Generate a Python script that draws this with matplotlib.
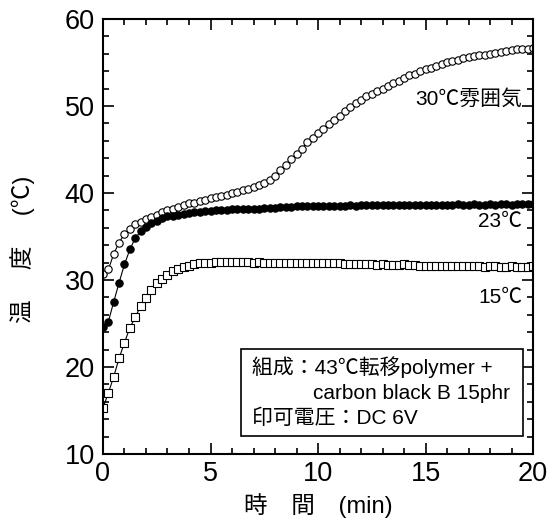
import numpy as np
import matplotlib
matplotlib.use("Agg")
import matplotlib.pyplot as plt
from matplotlib.ticker import MultipleLocator

plt.rcParams['font.family'] = ['Liberation Sans', 'Noto Sans CJK JP']

# time axis (min), sampled every 0.25 min
time_min = np.arange(0, 20.01, 0.25)

# 30C atmosphere (open circles)
temp_30 = [30.7, 31.2, 33.0, 34.3, 35.3, 35.8, 36.4, 36.7, 37.0, 37.2,
           37.5, 37.8, 38.0, 38.2, 38.4, 38.6, 38.8, 38.9, 39.1, 39.2,
           39.4, 39.5, 39.7, 39.8, 40.0, 40.1, 40.3, 40.5, 40.7, 40.9,
           41.1, 41.5, 42.0, 42.6, 43.2, 43.9, 44.5, 45.1, 45.8, 46.3,
           46.9, 47.4, 47.9, 48.4, 48.9, 49.4, 49.9, 50.3, 50.7, 51.1,
           51.4, 51.7, 52.0, 52.3, 52.6, 52.9, 53.2, 53.5, 53.7, 54.0,
           54.2, 54.4, 54.6, 54.8, 55.0, 55.2, 55.3, 55.5, 55.6, 55.7,
           55.8, 55.9, 56.0, 56.1, 56.2, 56.3, 56.4, 56.5, 56.5, 56.6,
           56.7]

# 23C (filled circles)
temp_23 = [24.6, 25.2, 27.5, 29.7, 31.8, 33.5, 34.8, 35.6, 36.1, 36.5,
           36.8, 37.1, 37.3, 37.4, 37.5, 37.6, 37.7, 37.8, 37.8, 37.9,
           37.9, 38.0, 38.0, 38.0, 38.1, 38.1, 38.1, 38.2, 38.2, 38.2,
           38.3, 38.3, 38.3, 38.4, 38.4, 38.4, 38.5, 38.5, 38.5, 38.5,
           38.5, 38.5, 38.5, 38.5, 38.5, 38.5, 38.6, 38.5, 38.6, 38.6,
           38.6, 38.6, 38.6, 38.6, 38.6, 38.6, 38.6, 38.6, 38.6, 38.6,
           38.6, 38.6, 38.6, 38.6, 38.6, 38.6, 38.7, 38.6, 38.6, 38.7,
           38.6, 38.6, 38.7, 38.6, 38.7, 38.7, 38.6, 38.7, 38.7, 38.7,
           38.7]

# 15C (open squares)
temp_15 = [15.3, 17.0, 18.9, 21.0, 22.8, 24.5, 25.7, 27.0, 27.9, 28.9,
           29.6, 30.1, 30.6, 31.0, 31.3, 31.5, 31.6, 31.8, 31.9, 32.0,
           32.0, 32.1, 32.1, 32.1, 32.1, 32.1, 32.1, 32.1, 32.0, 32.1,
           32.0, 32.0, 32.0, 32.0, 32.0, 31.9, 32.0, 32.0, 31.9, 31.9,
           31.9, 31.9, 31.9, 31.9, 31.9, 31.8, 31.8, 31.8, 31.8, 31.8,
           31.8, 31.7, 31.8, 31.7, 31.7, 31.7, 31.8, 31.7, 31.7, 31.6,
           31.6, 31.6, 31.6, 31.6, 31.6, 31.6, 31.6, 31.6, 31.6, 31.6,
           31.6, 31.5, 31.6, 31.6, 31.5, 31.5, 31.6, 31.5, 31.5, 31.5,
           31.6]

series_labels = ['30℃雰囲気', '23℃', '15℃']

fig = plt.figure(figsize=(5.49, 5.26), dpi=100)
ax = fig.add_axes([0.1876, 0.137, 0.7833, 0.827])

ax.plot(time_min, temp_30, 'o-', color='black', mfc='white', mec='black',
        ms=5.3, mew=0.8, lw=0.8)
ax.plot(time_min, temp_23, 'o-', color='black', mfc='black', mec='black',
        ms=5.3, mew=0.8, lw=0.8)
ax.plot(time_min, temp_15, 's-', color='black', mfc='white', mec='black',
        ms=5.3, mew=0.8, lw=0.8)

ax.set_xlim(0, 20)
ax.set_ylim(10, 60)
ax.xaxis.set_major_locator(MultipleLocator(5))
ax.xaxis.set_minor_locator(MultipleLocator(1))
ax.yaxis.set_major_locator(MultipleLocator(10))
ax.yaxis.set_minor_locator(MultipleLocator(2))
ax.tick_params(which='both', direction='in', top=True, right=True,
               labelsize=19.5, width=1.2)
ax.tick_params(which='major', length=8)
ax.tick_params(which='minor', length=4)
ax.tick_params(axis='x', which='major', pad=5)
ax.tick_params(axis='y', which='major', pad=6)
for s in ax.spines.values():
    s.set_linewidth(1.5)

ax.set_xlabel('時　間　(min)', fontsize=17)
ax.set_ylabel('温 　度 　(℃)', fontsize=17)
ax.xaxis.set_label_coords(0.5, -0.09)
ax.yaxis.set_label_coords(-0.158, 0.47)

# curve labels
ax.text(19.5, 50.8, series_labels[0], ha='right', va='center', fontsize=15)
ax.text(19.5, 36.7, series_labels[1], ha='right', va='center', fontsize=15)
ax.text(19.5, 28.0, series_labels[2], ha='right', va='center', fontsize=15)

# condition box
ax.add_patch(plt.Rectangle((6.42, 12.06), 13.1, 10.04, fill=True, fc='white',
                           ec='black', lw=1.2, zorder=3))
ax.text(6.93, 20.0, '組成：43℃転移polymer +', fontsize=15, va='center', zorder=4)
ax.text(9.77, 17.0, 'carbon black B 15phr', fontsize=15, va='center', zorder=4)
ax.text(6.93, 14.1, '印可電圧：DC 6V', fontsize=15, va='center', zorder=4)

fig.savefig('out.png', dpi=100)
